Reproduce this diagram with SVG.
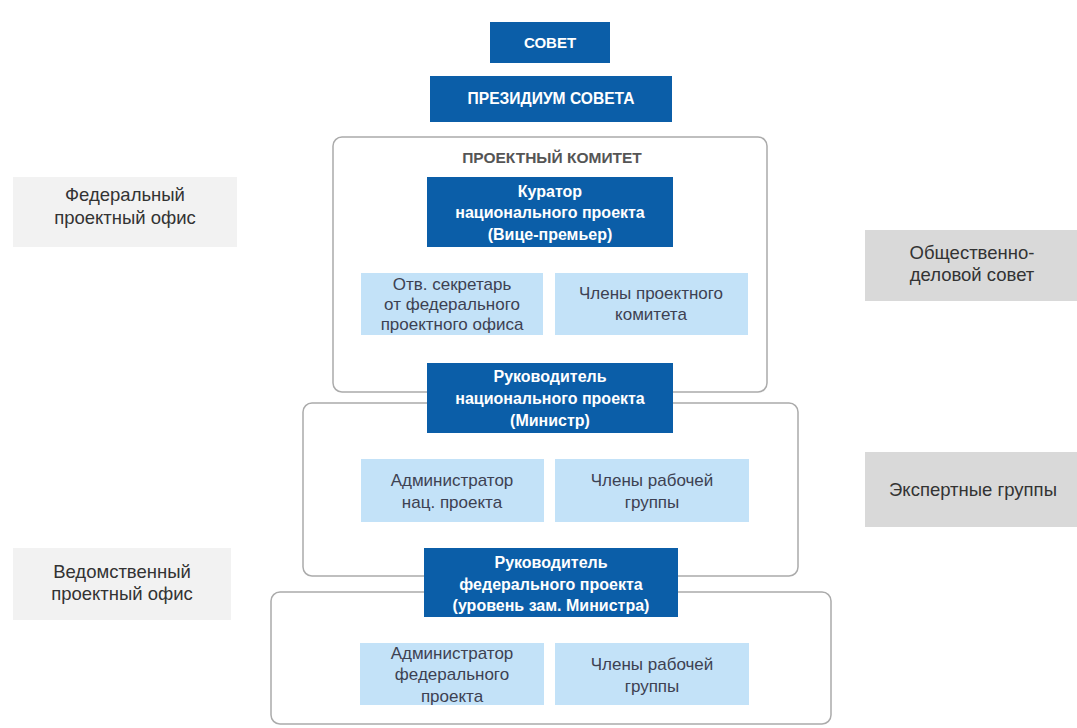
<svg xmlns="http://www.w3.org/2000/svg" width="1077" height="728" viewBox="0 0 1077 728">
<style>
.dark{fill:#0b5ea8}
.light{fill:#c3e2f8}
.gl{fill:#f2f2f2}
.gd{fill:#d9d9d9}
.frame{fill:none;stroke:#ababab;stroke-width:1.5}
text{font-family:"Liberation Sans",Arial,sans-serif;text-anchor:middle}
.tb{font-size:16px;font-weight:bold;fill:#ffffff}
.ts{font-size:15px;font-weight:bold;fill:#ffffff}
.tl{font-size:17px;fill:#3d4152}
.tg{font-size:18.5px;fill:#333333}
.th{font-size:15.5px;font-weight:bold;fill:#555555}
</style>
<rect width="1077" height="728" fill="#ffffff"/>
<g id="frames">
<rect id="frame-committee" class="frame" x="333" y="137" width="434" height="255" rx="9"/>
<rect id="frame-national" class="frame" x="303" y="403" width="495" height="173" rx="9"/>
<rect id="frame-federal" class="frame" x="271" y="592" width="560" height="132" rx="9"/>
</g>
<g id="connectors"></g>
<g id="sovet"><rect class="dark" x="490" y="22" width="120" height="41"/><text class="ts" x="550" y="48">СОВЕТ</text></g>
<g id="presidium"><rect class="dark" x="430" y="76" width="242" height="46"/><text class="ts" x="551" y="104" style="font-size:15.6px">ПРЕЗИДИУМ СОВЕТА</text></g>
<g id="committee-title"><text class="th" x="552" y="163">ПРОЕКТНЫЙ КОМИТЕТ</text></g>
<g id="curator"><rect class="dark" x="427" y="177" width="246" height="70"/>
<text class="tb" x="550" y="197">Куратор</text>
<text class="tb" x="550" y="218">национального проекта</text>
<text class="tb" x="550" y="240">(Вице-премьер)</text></g>
<g id="secretary"><rect class="light" x="361" y="273" width="182" height="62"/>
<text class="tl" x="452" y="290">Отв. секретарь</text>
<text class="tl" x="452" y="310">от федерального</text>
<text class="tl" x="452" y="330">проектного офиса</text></g>
<g id="committee-members"><rect class="light" x="555" y="273" width="193" height="62"/>
<text class="tl" x="651" y="299">Члены проектного</text>
<text class="tl" x="651" y="320">комитета</text></g>
<g id="national-head"><rect class="dark" x="427" y="363" width="246" height="70"/>
<text class="tb" x="550" y="382">Руководитель</text>
<text class="tb" x="550" y="404">национального проекта</text>
<text class="tb" x="550" y="426">(Министр)</text></g>
<g id="national-admin"><rect class="light" x="361" y="459" width="183" height="63"/>
<text class="tl" x="452" y="486">Администратор</text>
<text class="tl" x="452" y="508">нац. проекта</text></g>
<g id="national-members"><rect class="light" x="555" y="459" width="194" height="63"/>
<text class="tl" x="652" y="486">Члены рабочей</text>
<text class="tl" x="652" y="508">группы</text></g>
<g id="federal-head"><rect class="dark" x="424" y="548" width="254" height="69"/>
<text class="tb" x="551" y="568">Руководитель</text>
<text class="tb" x="551" y="590">федерального проекта</text>
<text class="tb" x="551" y="611">(уровень зам. Министра)</text></g>
<g id="federal-admin"><rect class="light" x="360" y="643" width="184" height="62"/>
<text class="tl" x="452" y="659">Администратор</text>
<text class="tl" x="452" y="680">федерального</text>
<text class="tl" x="452" y="702">проекта</text></g>
<g id="federal-members"><rect class="light" x="555" y="643" width="194" height="62"/>
<text class="tl" x="652" y="670">Члены рабочей</text>
<text class="tl" x="652" y="692">группы</text></g>
<g id="fed-office"><rect class="gl" x="13" y="177" width="224" height="70"/>
<text class="tg" x="125" y="201">Федеральный</text>
<text class="tg" x="125" y="224">проектный офис</text></g>
<g id="dept-office"><rect class="gl" x="13" y="548" width="218" height="72"/>
<text class="tg" x="122" y="578">Ведомственный</text>
<text class="tg" x="122" y="600">проектный офис</text></g>
<g id="public-council"><rect class="gd" x="865" y="230" width="212" height="71"/>
<text class="tg" x="972" y="259">Общественно-</text>
<text class="tg" x="972" y="281">деловой совет</text></g>
<g id="expert-groups"><rect class="gd" x="865" y="452" width="212" height="75"/>
<text class="tg" x="973" y="496">Экспертные группы</text></g>
</svg>
